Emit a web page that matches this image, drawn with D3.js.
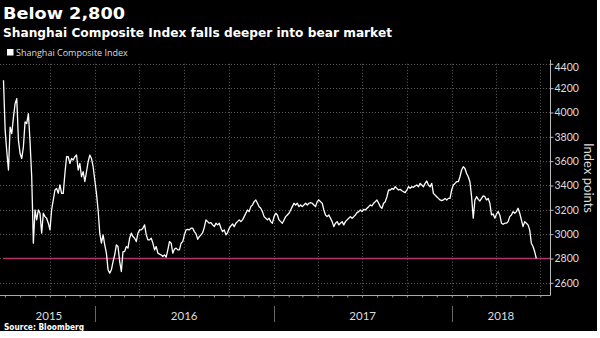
<!DOCTYPE html>
<html><head><meta charset="utf-8">
<script src="https://cdn.jsdelivr.net/npm/d3@7"></script>
<style>body{margin:0;background:#fff}svg{display:block}</style>
</head><body><svg id="c" width="600" height="338"></svg>
<script>
const titleText = "Below 2,800";
const subtitleText = "Shanghai Composite Index falls deeper into bear market";
const seriesName = "Shanghai Composite Index";
const sourceText = "Source: Bloomberg";
const axisTitle = "Index points";
const yTicks = [2600, 2800, 3000, 3200, 3400, 3600, 3800, 4000, 4200, 4400];
const yearLabels = ["2015", "2016", "2017", "2018"];
const thresholdValue = 2800;
const firstDate = new Date(2015, 5, 28);
const lastDate = new Date(2018, 5, 23);
const values = [
4264,3855,3677,3527,3880,3827,3960,4073,4114,3773,3663,3622,3718,3923,3909,3991,3759,3472,2926,3199,3117,3199,3172,3008,3172,3144,3131,3090,3035,3199,3281,3363,3376,3335,3404,3335,3335,3499,3636,3636,3581,3622,3609,3636,3650,
3527,3581,3472,3513,3431,3513,3595,3650,3622,3554,3445,3335,3199,3008,2926,2994,2912,2844,2707,2680,2707,2775,2830,2912,2898,2775,2693,2857,2857,2898,2885,2967,3008,2980,2967,2939,3008,3035,3035,3049,3076,2994,2953,2953,2967,2926,2871,
2898,2844,2836,2830,2816,2830,2811,2871,2939,2926,2844,2877,2885,2871,2871,2926,2939,2994,3035,3040,3035,3049,3049,3021,3002,2958,2980,2994,3013,3057,3117,3103,3090,3095,3076,3062,3090,3076,3090,3049,3021,3035,2994,3013,3049,3068,3084,
3062,3090,3103,3117,3103,3117,3144,3172,3199,3185,3226,3240,3267,3281,3254,3226,3213,3185,3144,3131,3117,3131,3103,3090,3144,3172,3158,3117,3103,3090,3117,3144,3158,3172,3199,3226,3254,3240,3254,3226,3240,3226,3240,3254,3240,3254,3259,
3254,3240,3226,3267,3281,3267,3254,3199,3158,3144,3158,3131,3103,3062,3090,3103,3076,3090,3103,3076,3103,3117,3131,3144,3131,3144,3158,3177,3185,3199,3185,3204,3199,3213,3226,3240,3232,3254,3267,3281,3254,3226,3213,3254,3267,3308,3363,
3363,3376,3368,3390,3376,3363,3368,3357,3349,3341,3363,3390,3376,3390,3385,3396,3404,3390,3417,3404,3390,3417,3437,3404,3390,3417,3335,3322,3308,3294,3281,3275,3281,3294,3281,3294,3294,3363,3404,3417,3431,3431,3472,3527,3554,3540,3499,
3472,3431,3308,3131,3281,3308,3286,3273,3294,3314,3308,3281,3294,3254,3158,3166,3131,3164,3185,3158,3090,3081,3090,3090,3103,3144,3158,3185,3172,3185,3213,3172,3117,3062,3103,3090,3076,3035,2926,2898,2857,2800
];

const n = values.length;
const step = (lastDate - firstDate) / (n - 1);
const data = values.map((v, i) => ({date: new Date(+firstDate + i * step), value: v}));

const svg = d3.select("#c");
svg.append("rect").attr("width", 597).attr("height", 331).attr("fill", "#000");

const x = d3.scaleTime().domain([new Date(2015, 5, 27), new Date(2018, 6, 21)]).range([3, 550]);
const y = d3.scaleLinear().domain([2500, 4400]).range([295, 63.8]);
const plotTop = y(4400), plotBottom = 295.5, plotRight = 550;

// grid
const grid = svg.append("g").attr("stroke", "#5c5c5c").attr("stroke-dasharray", "1,2").attr("stroke-width", 1);
grid.selectAll("line.h").data(yTicks).join("line")
  .attr("x1", 0).attr("x2", plotRight)
  .attr("y1", d => Math.round(y(d)) + 0.5).attr("y2", d => Math.round(y(d)) + 0.5);
const quarters = d3.timeMonth.every(3).range(new Date(2015, 8, 1), x.domain()[1]);
grid.selectAll("line.v").data(quarters).join("line")
  .attr("x1", d => Math.round(x(d)) + 0.5).attr("x2", d => Math.round(x(d)) + 0.5)
  .attr("y1", plotTop).attr("y2", plotBottom);

// right axis
const yAxis = d3.axisRight(y).tickValues(yTicks).tickSize(3).tickPadding(1).tickFormat(d3.format("d"));
const ya = svg.append("g").attr("transform", `translate(${plotRight + 0.5},0)`).call(yAxis);
ya.select(".domain").attr("stroke", "#bbb").attr("d", `M0,${plotTop - 4}V${plotBottom}`);
ya.selectAll(".tick line").attr("stroke", "#bbb");
ya.selectAll(".tick text").attr("fill", "#ddd").attr("font-family", "Lato, 'Open Sans', sans-serif").attr("font-size", 10.5)
  .attr("dy", d => d === 4400 ? "0.62em" : "0.32em");

svg.append("text").attr("transform", `translate(584,178) rotate(90)`)
  .attr("text-anchor", "middle").attr("fill", "#ddd")
  .attr("font-family", "Lato, 'Open Sans', sans-serif").attr("font-size", 13)
  .attr("textLength", 70).attr("lengthAdjust", "spacingAndGlyphs").text(axisTitle);

// bottom axis
const xAxis = d3.axisBottom(x).ticks(d3.timeMonth.every(1)).tickSize(2).tickFormat("");
const xa = svg.append("g").attr("transform", `translate(0,${plotBottom})`).call(xAxis);
xa.select(".domain").attr("stroke", "#aaa").attr("d", `M0,0H${plotRight + 0.5}`);
xa.selectAll(".tick line").attr("stroke", "#999");

const years = d3.timeYear.range(new Date(2016, 0, 1), x.domain()[1]);
svg.append("g").selectAll("line").data(years).join("line")
  .attr("x1", d => Math.round(x(d)) + 0.5).attr("x2", d => Math.round(x(d)) + 0.5)
  .attr("y1", 306).attr("y2", 322).attr("stroke", "#666");
const bounds = [x.domain()[0], ...years, x.domain()[1]];
svg.append("g").selectAll("text").data(yearLabels).join("text")
  .attr("x", (d, i) => (x(bounds[i]) + x(bounds[i + 1])) / 2)
  .attr("y", 320).attr("text-anchor", "middle").attr("fill", "#ddd")
  .attr("font-family", "Lato, 'Open Sans', sans-serif").attr("font-size", 11.5).text(d => d);

// threshold
svg.append("line").attr("x1", 3).attr("x2", plotRight).attr("y1", y(thresholdValue)).attr("y2", y(thresholdValue))
  .attr("stroke", "#b2306c").attr("stroke-width", 1.6);

// series
svg.append("path").datum(data)
  .attr("d", d3.line().x(d => x(d.date)).y(d => y(d.value)))
  .attr("fill", "none").attr("stroke", "#fff").attr("stroke-width", 1.3).attr("stroke-linejoin", "round");

// titles
svg.append("text").attr("x", 3).attr("y", 18.5).attr("fill", "#fff")
  .attr("font-family", "'DejaVu Sans', Verdana, sans-serif").attr("font-weight", "bold").attr("font-size", 16)
  .attr("textLength", 122).attr("lengthAdjust", "spacingAndGlyphs").text(titleText);
svg.append("text").attr("x", 3).attr("y", 36.5).attr("fill", "#fff")
  .attr("font-family", "'DejaVu Sans', Verdana, sans-serif").attr("font-weight", "bold").attr("font-size", 12.5)
  .attr("textLength", 389).attr("lengthAdjust", "spacingAndGlyphs").text(subtitleText);

// legend
svg.append("rect").attr("x", 7).attr("y", 49).attr("width", 6.5).attr("height", 6.5).attr("fill", "#fff");
svg.append("text").attr("x", 16).attr("y", 56).attr("fill", "#ddd")
  .attr("font-family", "'Open Sans', sans-serif").attr("font-size", 9).text(seriesName);

// source
svg.append("text").attr("x", 4).attr("y", 330).attr("fill", "#fff")
  .attr("font-family", "'DejaVu Sans', Verdana, sans-serif").attr("font-weight", "bold").attr("font-size", 9)
  .attr("textLength", 80).attr("lengthAdjust", "spacingAndGlyphs").text(sourceText);
</script></body></html>
